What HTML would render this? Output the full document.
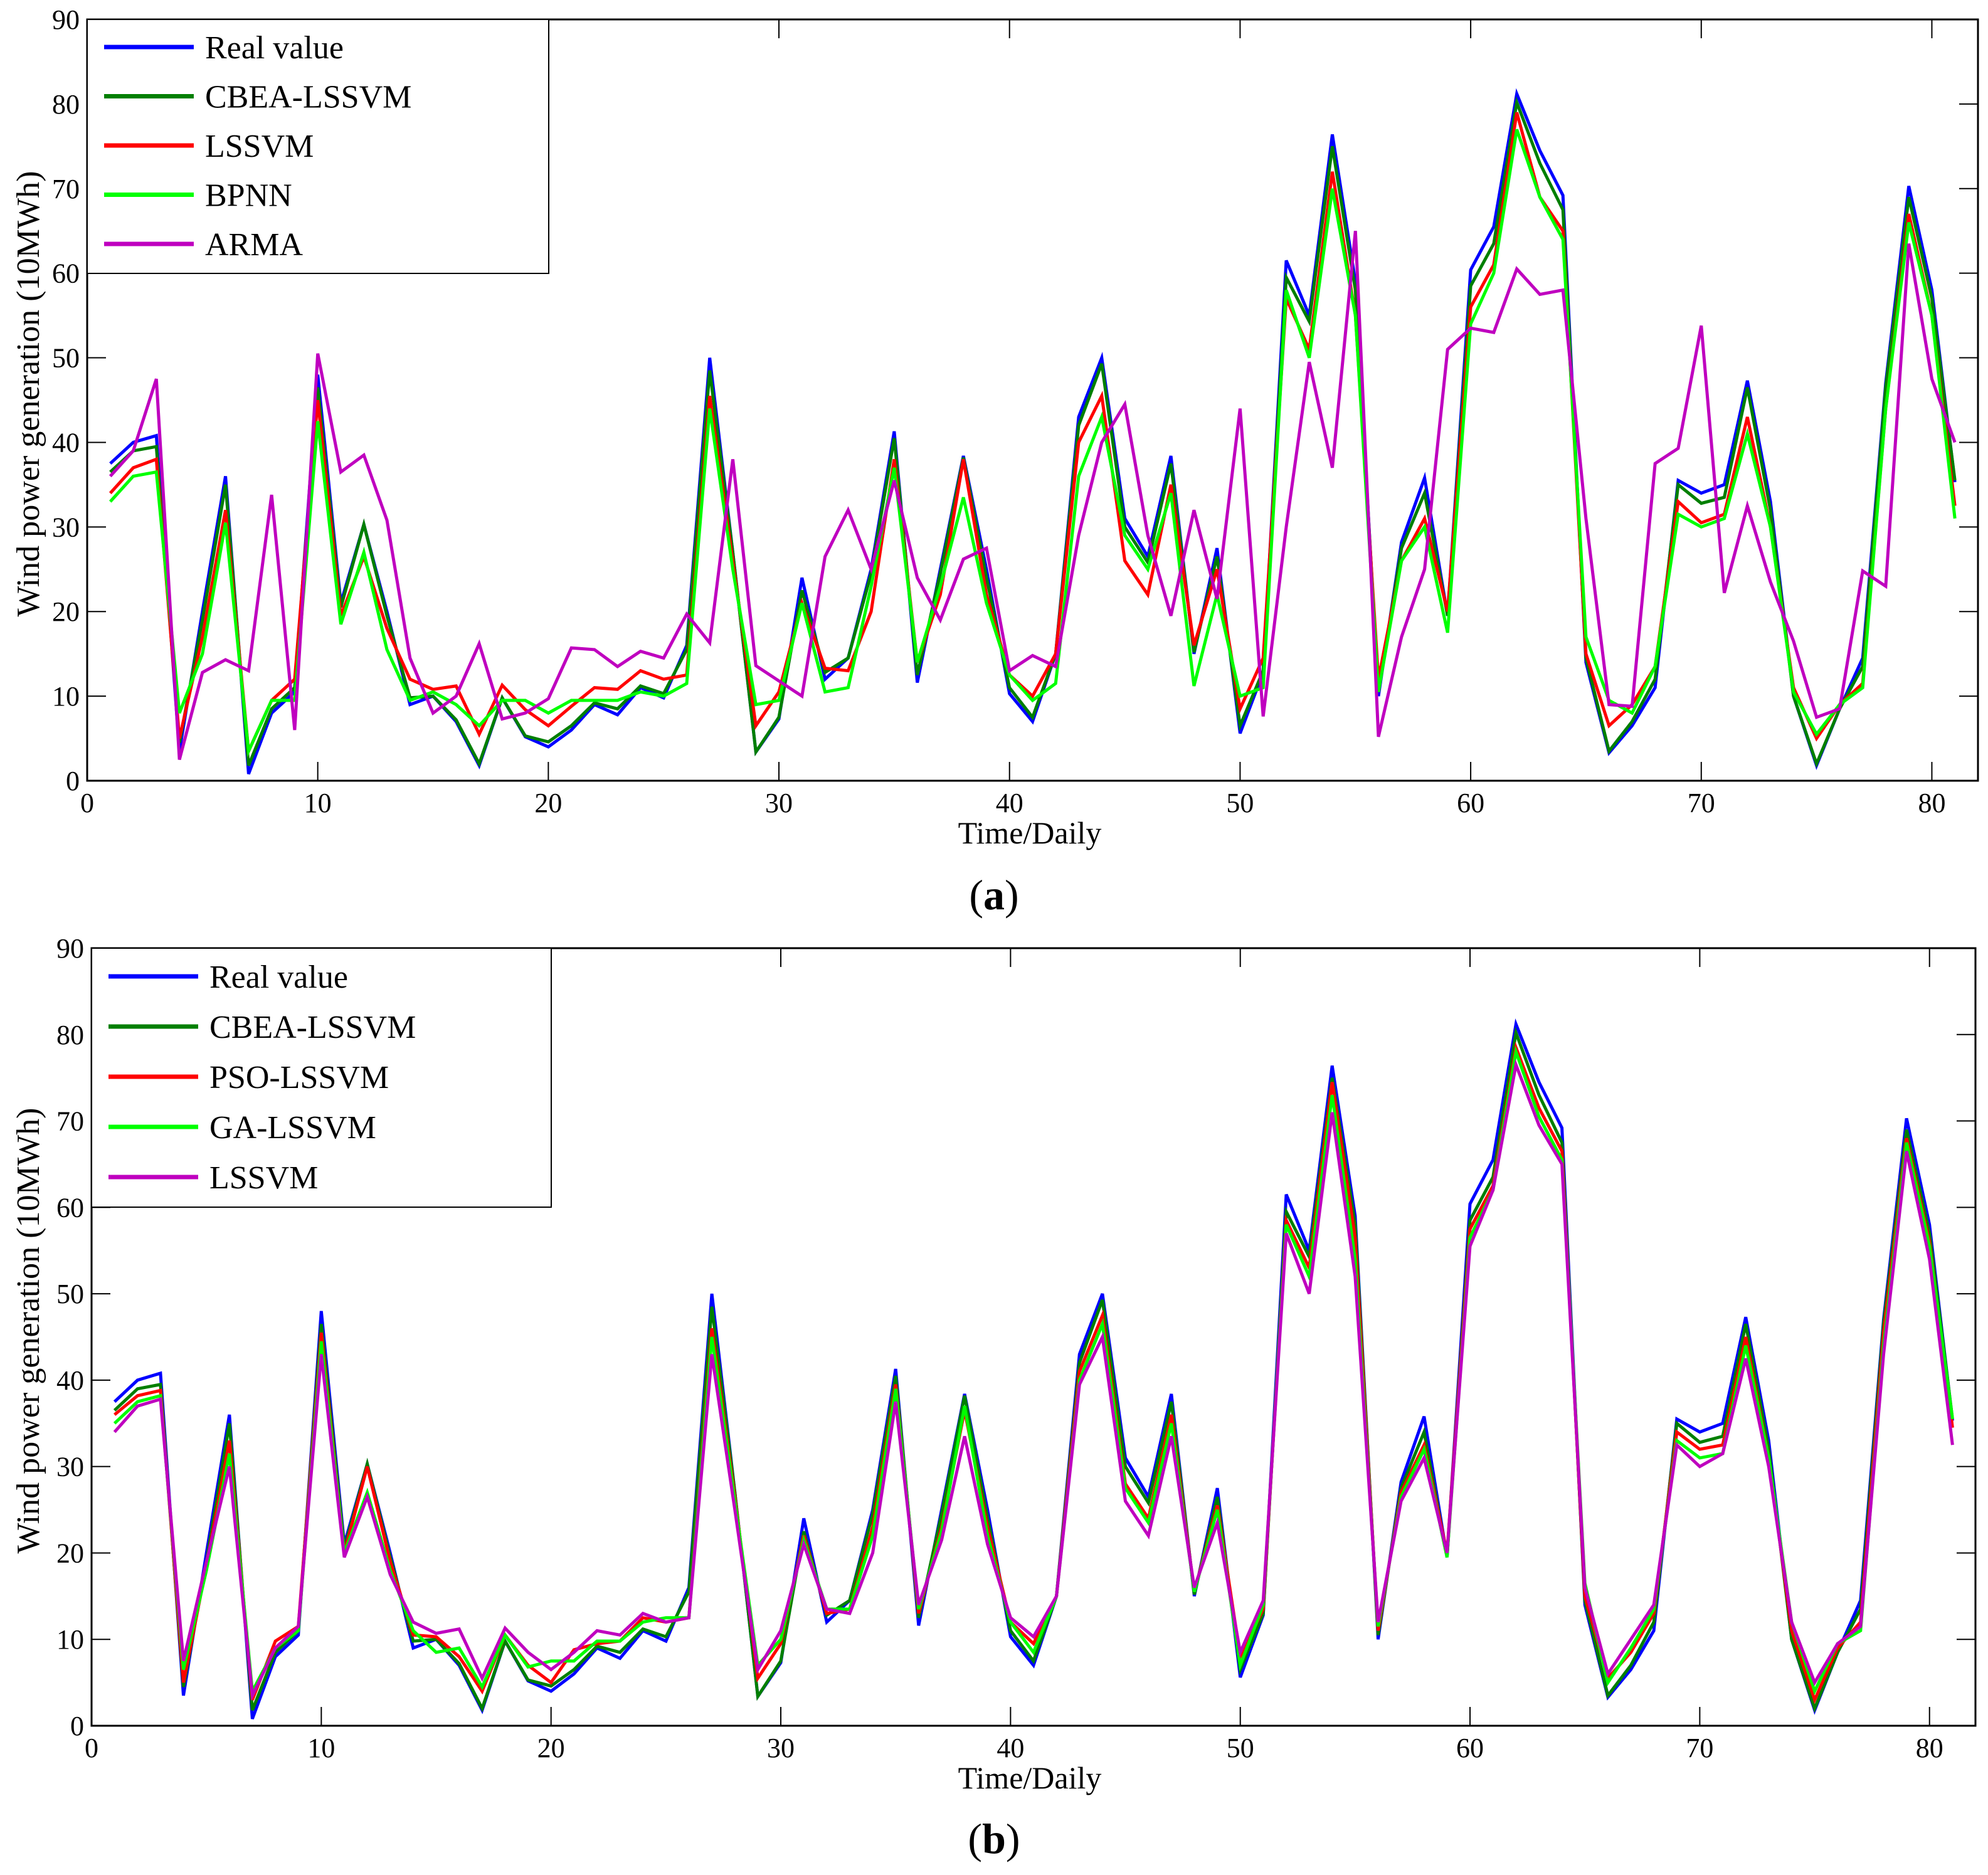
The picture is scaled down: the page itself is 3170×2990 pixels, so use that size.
<!DOCTYPE html>
<html><head><meta charset="utf-8"><style>
html,body{margin:0;padding:0;background:#fff;}
svg{display:block;font-family:"Liberation Serif",serif;}
</style></head><body>
<svg id="chart" width="3170" height="2990" viewBox="0 0 3170 2990" xmlns="http://www.w3.org/2000/svg"></svg>
<script>
const days = Array.from({length:81},(_,i)=>i+1);
const xTicks = [0,10,20,30,40,50,60,70,80];
const yTicks = [0,10,20,30,40,50,60,70,80,90];
const realValue = [37.5,40,40.8,3.5,20,36,0.8,8,10.5,48,21,30.3,20,9,10,7,1.8,9.8,5.2,4,6,9,7.8,11,9.8,16,50,27,3.4,7.3,24,12,14.5,25,41.3,11.6,25,38.4,25,10.3,7,15,43,50,31,26.5,38.4,15,27.5,5.6,12.8,61.5,55,76.4,59,10,28.2,35.8,19.5,60.4,65.5,81.2,74.5,69.2,14,3.3,6.5,11,35.5,34,35,47.3,33,10,1.8,8.5,14.5,47,70.3,58,35.3];
const cbeaLssvm = [36.5,39,39.5,4.5,19,35,1.8,8.5,11,46.5,20.5,30.3,19.5,9.8,10,7.2,2,9.8,5.3,4.6,6.5,9.2,8.5,11.2,10.3,15.5,48.5,27,3.4,7.5,22.5,12.8,14.5,24.5,40.5,12.5,24.5,38.2,24,11,7.5,15,42,49.3,30,25.8,37.5,15.2,26.5,6.5,13,59.5,54.3,75,58,10.5,27.5,34,19.5,58.5,63.5,80.2,73,67.5,14.5,3.5,7,12,35,32.8,33.5,46.5,32,10,2,8.5,13.5,46.5,69,57,35.5];
const lssvmA = [34,37,38,5,17,32,3.5,9.5,12,45,19.5,26.5,18,12,10.8,11.2,5.5,11.3,8.4,6.5,8.8,11,10.8,13,12,12.5,45.5,26,6.5,10.5,21,13.3,13,20,38,14,22,38,22,12.5,10,15,40,45.5,26,22,35,16,25,8.5,14.5,57,51,72,55,12,26,31,20,56,61,79,69,65,15,6.5,9,13.5,33,30.5,31.5,43,30,11,5,9,11.5,44,67,55,32.5];
const bpnn = [33,36,36.5,8,15,30.5,3.5,9.5,9.5,42.5,18.5,27,15.5,9.5,10.5,9,6.5,9.5,9.5,8,9.5,9.5,9.5,10.5,10,11.5,44,25,9,9.5,21,10.5,11,23,37,14,23,33.5,21,12.5,9.5,11.5,36,43,29,25,34,11.2,22,10,11,58,50,70,55,10.5,26,30,17.5,54,60,77,69,64,17,9.5,8,13.5,31.5,30,31,41,30,10.5,5.5,9,11,44,66,55,31];
const arma = [36,39,47.5,2.5,12.8,14.3,13,33.8,6,50.5,36.5,38.5,30.8,14.5,8,10,16.2,7.3,8,9.7,15.7,15.5,13.5,15.3,14.5,19.7,16.3,38,13.6,11.8,10,26.5,32,25,35.5,24,19,26.2,27.5,13,14.8,13.5,29,40,44.5,29,19.5,32,21.5,44,7.6,30,49.5,37,65,5.2,17,25,51,53.5,53,60.5,57.5,58,31,9,8.8,37.5,39.3,53.8,22.2,32.5,23.5,16.5,7.5,8.5,24.8,23,63.5,47.5,40];
const psoLssvm = [36,38.2,38.8,5,18.5,33,3,9.8,11.5,45.5,20,30,19,10.5,10.3,8,4,10.5,7,5,8.8,9.5,9.8,12.5,12,12.5,46,26.5,5.5,9.5,22,13,13.5,23,39.5,13,23,36.5,23,12,9.5,15,41,47.5,28,24,36,15.5,25.5,8,13.5,58.5,53,74.5,56.5,11,27,32.5,20,57.5,62.5,78.5,71.5,66.5,15,5.5,8.5,13,34,32,32.5,45,31,11,3,9,12,45.5,68,56,34.5];
const gaLssvm = [35,37.5,38.2,6.5,18,31.5,4,9,11,44.5,20,27,18,11,8.5,9,4.5,10.5,6.8,7.5,7.5,9.8,9.8,12,12.5,12.5,45,26,7,10,21.5,13.5,13.5,22,39,13.5,22.5,37,22,12,8.5,15,40,46.5,27.5,23.5,35,15.5,25,7,14,58,52,73,54,11.5,26.5,32,19.5,56.5,62,78,70.5,65.5,16.5,5,9,13.5,33,31,31.5,44,31,12,4,9.5,11,44,67.5,55.5,35.5];
const lssvmB = [34,37,37.8,7.5,19,30,3.5,9,11.5,43,19.5,26.5,17.5,12,10.7,11.2,5.5,11.3,8.5,6.5,8.5,11,10.5,13,12,12.5,43,25,6.5,11,21,13.5,13,20,37.5,14,21.5,33.5,21,12.5,10.3,15,39.5,45,26,22,33.5,16,23.5,8.5,14.5,57,50,71,52,12,26,31,20,55.5,62,76.5,69.5,65,16,6,10,14,32.5,30,31.5,42.5,30,12,5,9.5,11.5,43,66.5,54,32.5];
const legendA = ["Real value","CBEA-LSSVM","LSSVM","BPNN","ARMA"];
const legendB = ["Real value","CBEA-LSSVM","PSO-LSSVM","GA-LSSVM","LSSVM"];

const NS="http://www.w3.org/2000/svg";
const svg=document.getElementById('chart');
function mk(tag,attrs,parent){const e=document.createElementNS(NS,tag);for(const k in attrs)e.setAttribute(k,attrs[k]);(parent||svg).appendChild(e);return e;}
const colors=["#0000ff","#007f00","#ff0000","#00ff00","#bf00bf"];

function panel(p){
  const g=mk('g',{});
  
  
  const X=v=>p.left+(v/82)*(p.right-p.left);
  const Y=v=>p.bottom-(v/90)*(p.bottom-p.top);
  // series
  p.series.forEach((s,si)=>{
    const d=s.map((v,i)=>(i?'L':'M')+X(days[i]).toFixed(1)+','+Y(v).toFixed(1)).join(' ');
    const path=mk('path',{d:d,fill:'none',stroke:colors[si],'stroke-width':5,'stroke-linejoin':'miter'},g);
    
    
  });
  // axes box
  const box=mk('rect',{x:p.left,y:p.top,width:p.right-p.left,height:p.bottom-p.top,fill:'none',stroke:'#000','stroke-width':3},g);
  
  
  xTicks.forEach(t=>{
    const x=X(t);
    const tk=mk('path',{d:`M${x},${p.bottom}V${p.bottom-30}M${x},${p.top}V${p.top+30}`,stroke:'#000','stroke-width':2},g);
    
    
    const tl=mk('text',{x:x,y:p.bottom+50,'font-size':44,'text-anchor':'middle'},g);
    tl.textContent=t;
    
    
  });
  yTicks.forEach(t=>{
    const y=Y(t);
    const tk=mk('path',{d:`M${p.left},${y}H${p.left+30}M${p.right},${y}H${p.right-30}`,stroke:'#000','stroke-width':2},g);
    
    
    const tl=mk('text',{x:p.left-12,y:y+15,'font-size':44,'text-anchor':'end'},g);
    tl.textContent=t;
    
    
  });
  // legend
  const lg=mk('g',{},g);
  
  
  mk('rect',{x:p.left,y:p.top,width:p.legRight-p.left,height:p.legBottom-p.top,fill:'#fff',stroke:'#000','stroke-width':2},lg);
  p.labels.forEach((l,i)=>{
    const y=p.legY0+i*p.legDy;
    const ln=mk('line',{x1:p.left+27,x2:p.left+170,y1:y,y2:y,stroke:colors[i],'stroke-width':7},lg);
    
    
    const tx=mk('text',{x:p.left+188,y:y+18,'font-size':52},lg);
    tx.textContent=l;
    
    
  });
  const xl=mk('text',{x:1642,y:p.bottom+100,'font-size':50,'text-anchor':'middle'},g);
  xl.textContent='Time/Daily';
  
  
  const cy=(p.top+p.bottom)/2-10;
  const yl=mk('text',{x:0,y:0,'font-size':52,'text-anchor':'middle',transform:`translate(62,${cy}) rotate(-90)`,textLength:711,lengthAdjust:'spacingAndGlyphs'},g);
  yl.textContent='Wind power generation (10MWh)';
  
  
  const pl=mk('text',{x:1585,y:p.capY,'font-size':68,'text-anchor':'middle'},g);
  pl.innerHTML='(<tspan font-weight="bold">'+p.cap+'</tspan>)';
  
  
}
panel({name:'panel-a',left:139,right:3154,top:31,bottom:1245,series:[realValue,cbeaLssvm,lssvmA,bpnn,arma],labels:legendA,legRight:875,legBottom:436,legY0:75,legDy:78.5,cap:'a',capY:1450});
panel({name:'panel-b',left:146,right:3150,top:1512,bottom:2752,series:[realValue,cbeaLssvm,psoLssvm,gaLssvm,lssvmB],labels:legendB,legRight:879,legBottom:1925,legY0:1557,legDy:80,cap:'b',capY:2955});
</script>
</body></html>
